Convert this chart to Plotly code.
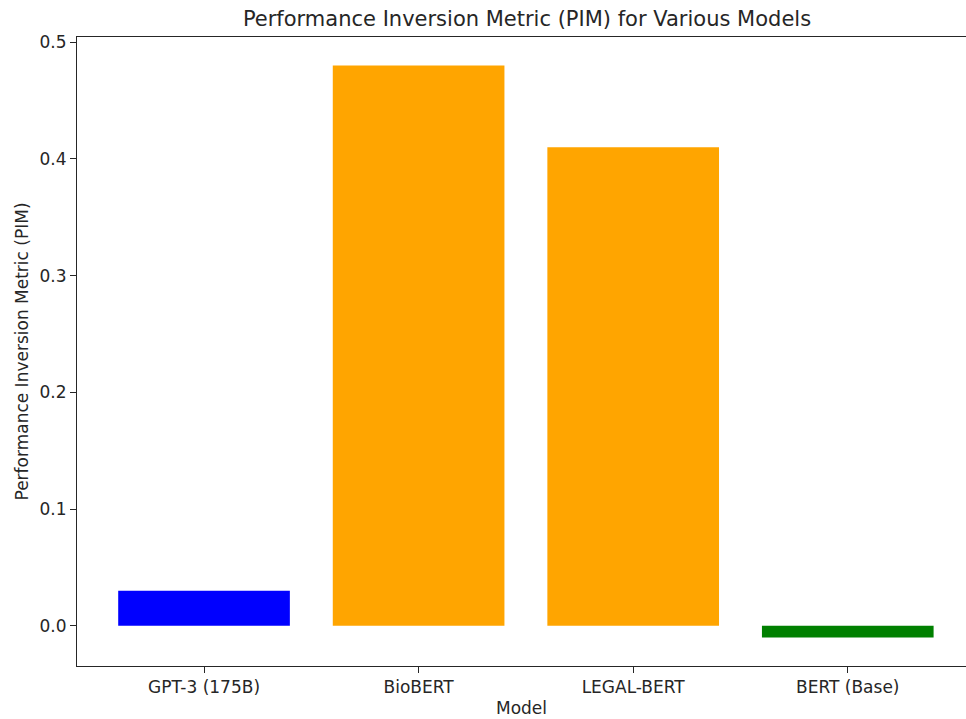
import plotly.graph_objects as go

models = ["GPT-3 (175B)", "BioBERT", "LEGAL-BERT", "BERT (Base)"]
pim_values = [0.03, 0.48, 0.41, -0.01]
bar_colors = ["blue", "orange", "orange", "green"]

font_family = "DejaVu Sans, Arial, sans-serif"

fig = go.Figure(
    go.Bar(
        x=list(range(len(models))),
        y=pim_values,
        marker=dict(color=bar_colors, line=dict(width=0)),
        width=0.8,
    )
)

fig.update_layout(
    width=966,
    height=719,
    autosize=False,
    margin=dict(l=77, r=0, t=37, b=53, autoexpand=False),
    paper_bgcolor="white",
    plot_bgcolor="white",
    showlegend=False,
    font=dict(family=font_family, size=17, color="#262626"),
    title=dict(
        text="Performance Inversion Metric (PIM) for Various Models",
        x=527 / 966,
        xanchor="center",
        y=1 - 19 / 719,
        yanchor="middle",
        font=dict(size=21, color="#262626"),
    ),
)

fig.update_xaxes(
    tickmode="array",
    tickvals=list(range(len(models))),
    ticktext=models,
    range=[-0.592, 3.551],
    showgrid=False,
    zeroline=False,
    showline=True,
    linecolor="#262626",
    linewidth=1,
    mirror=True,
    ticks="outside",
    ticklen=6,
    tickcolor="#262626",
    automargin=False,
    title=dict(text="Model", font=dict(size=17), standoff=5),
)

fig.update_yaxes(
    range=[-0.0345, 0.5045],
    tickmode="linear",
    tick0=0,
    dtick=0.1,
    tickformat=".1f",
    showgrid=False,
    zeroline=False,
    showline=True,
    linecolor="#262626",
    linewidth=1,
    mirror=False,
    ticks="outside",
    ticklen=6,
    tickcolor="#262626",
    automargin=False,
    title=dict(text="Performance Inversion Metric (PIM)", font=dict(size=17), standoff=6),
)

fig.write_html(
    "out.html",
    config={"responsive": False, "displayModeBar": False},
    post_script="document.body.style.margin='0';document.body.style.overflow='hidden';",
)
